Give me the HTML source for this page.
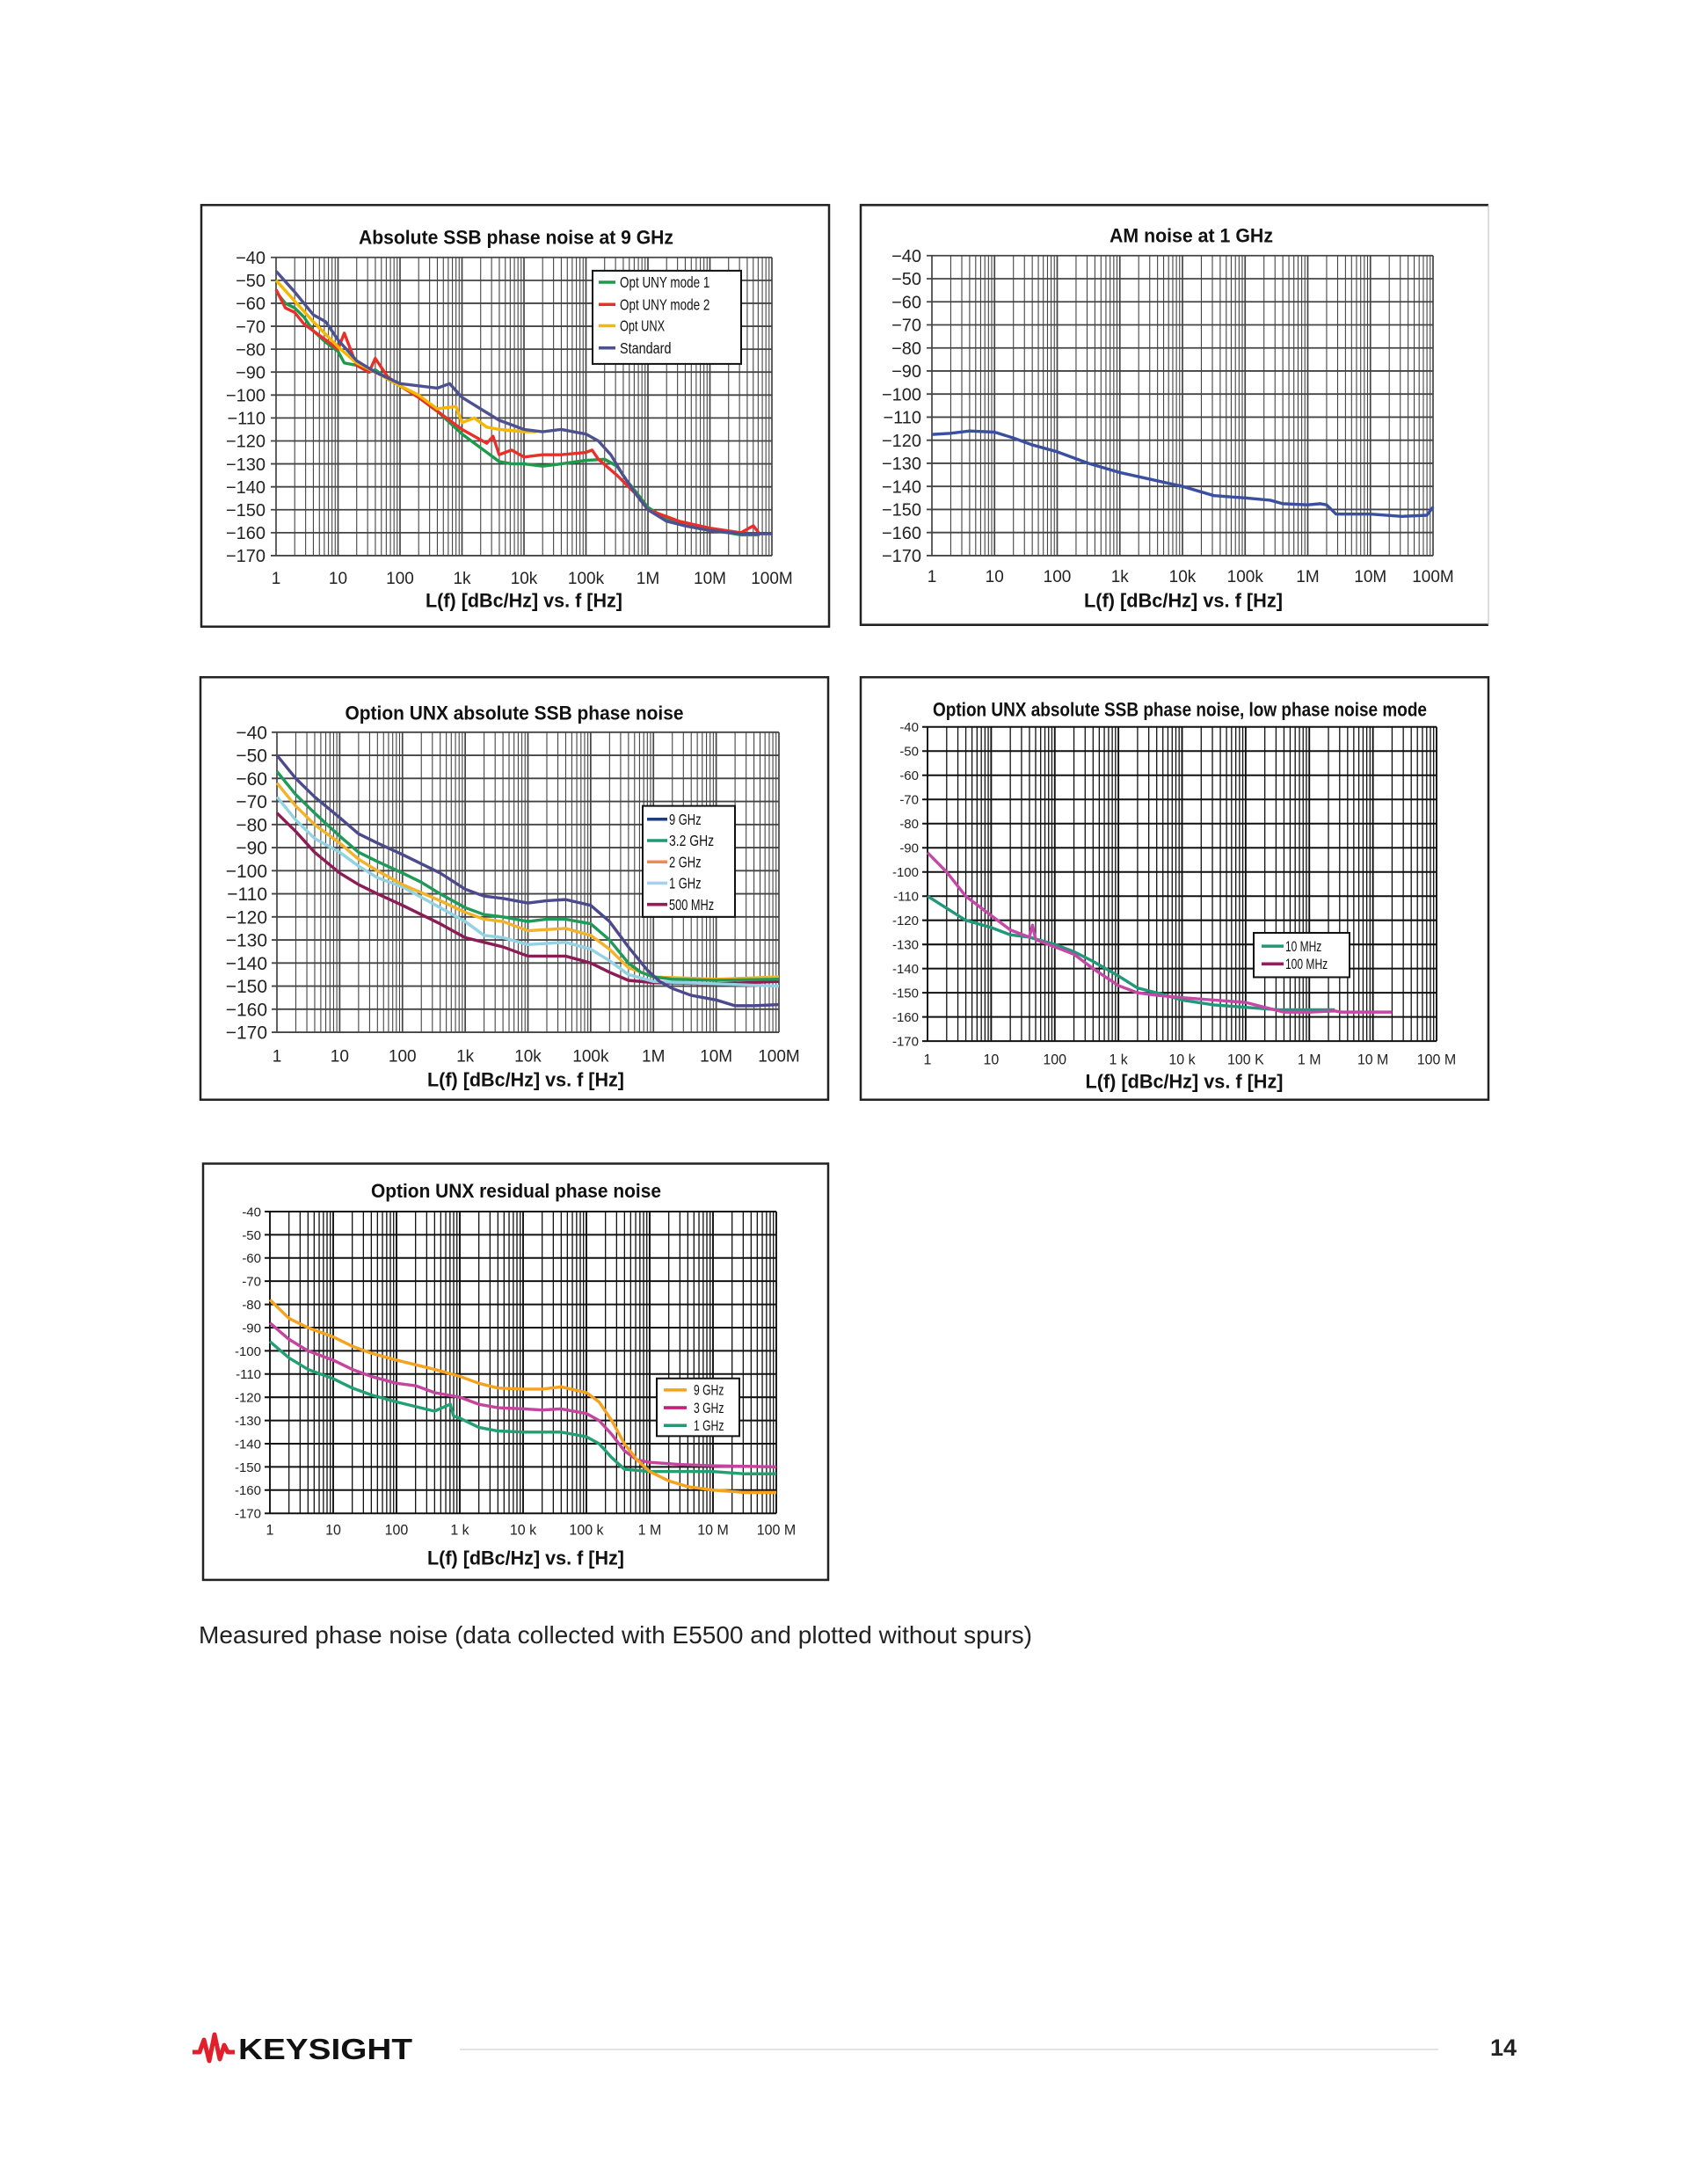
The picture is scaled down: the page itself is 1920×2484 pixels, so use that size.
<!DOCTYPE html>
<html><head><meta charset="utf-8">
<style>
html,body{margin:0;padding:0;background:#fff;}
body{width:1920px;height:2484px;position:relative;overflow:hidden;font-family:"Liberation Sans",sans-serif;}
#charts{position:absolute;left:0;top:0;}
.caption{position:absolute;left:226px;top:1844px;font-size:28px;color:#222;white-space:nowrap;}
.footer-line{position:absolute;left:523px;top:2330px;width:1113px;height:2px;background:#e3e3e3;}
.page-num{position:absolute;left:1695px;top:2314px;font-size:27px;font-weight:bold;color:#222;}
.logo{position:absolute;left:219px;top:2308px;}
</style></head>
<body>
<svg id="charts" width="1920" height="1830" xmlns="http://www.w3.org/2000/svg"><g id="root" transform="scale(1,1.0095)"></g></svg>
<div class="caption">Measured phase noise (data collected with E5500 and plotted without spurs)</div>
<svg class="logo" width="260" height="44" xmlns="http://www.w3.org/2000/svg">
<polyline points="0,26 8,26 13,12 19,36 25,6 31,34 36,18 40,26 48,26" fill="none" stroke="#e0202a" stroke-width="5" stroke-linejoin="round"/>
<text x="52" y="34" font-family="Liberation Sans, sans-serif" font-weight="bold" font-size="33" fill="#111" textLength="198" lengthAdjust="spacingAndGlyphs">KEYSIGHT</text>
</svg>
<div class="footer-line"></div>
<div class="page-num">14</div>
<script>
// ---------- data (x = log10 frequency in Hz, y = dBc/Hz) ----------
const yTicks = [-40,-50,-60,-70,-80,-90,-100,-110,-120,-130,-140,-150,-160,-170];
const xTickLabelsA = ["1","10","100","1k","10k","100k","1M","10M","100M"];
const xTickLabelsB = ["1","10","100","1 k","10 k","100 K","1 M","10 M","100 M"];
const xTickLabelsC = ["1","10","100","1 k","10 k","100 k","1 M","10 M","100 M"];

// Chart 1: Absolute SSB phase noise at 9 GHz
const c1GreenX = [0,0.15,0.3,0.45,0.6,0.8,1,1.1,1.3,1.5,1.6,1.8,2,2.3,2.6,3,3.2,3.4,3.6,3.8,4,4.3,4.6,5,5.3,5.5,5.65,5.8,6,6.3,6.6,7,7.3,7.5,7.8];
const c1GreenY = [-55,-60,-62,-66,-72,-77,-81,-86,-87,-90,-89,-93,-96,-101,-107,-117,-121,-125,-129,-130,-130,-131,-130,-128.5,-128,-131,-137,-142,-149,-154,-157,-159,-160,-161,-161];
const c1RedX = [0,0.15,0.3,0.45,0.6,0.8,1,1.1,1.3,1.5,1.6,1.8,2,2.3,2.6,3,3.2,3.4,3.5,3.6,3.8,4,4.3,4.6,5,5.1,5.2,5.5,5.8,6,6.5,7,7.5,7.7,7.8];
const c1RedY = [-54,-62,-64,-69,-72,-76,-80,-73,-87,-90,-84,-92,-96,-101,-107,-115,-118,-121,-118,-126,-124,-127,-126,-126,-125,-124,-128,-135,-143,-150,-155,-158,-160,-157,-160.5];
const c1YelX = [0,0.3,0.6,1,1.3,1.6,2,2.3,2.6,2.9,3,3.2,3.4,3.6,4,4.2];
const c1YelY = [-50,-59,-68,-79,-86,-90,-96,-100,-106,-105,-112,-110,-114,-115,-116,-116];
const c1StdX = [0,0.3,0.6,0.8,1,1.3,1.6,2,2.3,2.6,2.8,3,3.3,3.6,4,4.3,4.6,5,5.2,5.4,5.6,5.8,6,6.3,6.6,7,7.5,8];
const c1StdY = [-46,-55,-65,-68,-76,-85,-90,-95,-96,-97,-95,-101,-106,-111,-115,-116,-115,-117,-120,-126,-135,-143,-150,-155,-157,-159,-160.5,-160.5];

// Chart 2: AM noise at 1 GHz
const c2X = [0,0.3,0.6,1,1.3,1.6,2,2.5,3,3.5,4,4.5,5,5.4,5.6,6,6.2,6.3,6.45,7,7.5,7.9,8];
const c2Y = [-117.5,-117,-116,-116.5,-119,-122,-125,-130,-134,-137,-140,-144,-145,-146,-147.5,-148,-147.5,-148,-152,-152,-153,-152.5,-149];

// Chart 3: Option UNX absolute SSB phase noise
const c3N9X = [0,0.3,0.6,1,1.3,1.6,2,2.3,2.6,3,3.3,3.6,4,4.3,4.6,5,5.3,5.6,5.9,6.1,6.3,6.6,7,7.3,7.6,8];
const c3N9Y = [-50,-60,-68,-77,-84,-88,-93,-97,-101,-108,-111,-112,-114,-113,-112.5,-115,-122,-133,-143,-148,-151,-154,-156,-158.5,-158.5,-158];
const c3N32X = [0,0.3,0.6,1,1.3,1.6,2,2.3,2.6,3,3.3,3.6,4,4.3,4.6,5,5.3,5.6,5.8,6,6.3,7,8];
const c3N32Y = [-57,-67,-75,-85,-92,-96,-101,-105,-110,-116,-119,-120,-122,-121,-121,-123,-130,-140,-144,-146,-147,-147.5,-147];
const c3N2X = [0,0.3,0.6,1,1.3,1.6,2,2.6,3,3.3,3.6,4,4.6,5,5.3,5.6,6,7,8];
const c3N2Y = [-62,-72,-80,-88,-95,-100,-106,-113,-118,-121,-122,-126,-125,-128,-134,-142,-146,-147,-146];
const c3N1X = [0,0.3,0.6,1,1.3,1.6,2,2.6,3,3.3,3.6,4,4.6,5,5.3,5.6,6,7,8];
const c3N1Y = [-68,-78,-86,-92,-98,-103,-107,-116,-122,-128,-129,-132,-131,-134,-139,-145,-148,-149,-150];
const c3N05X = [0,0.3,0.6,1,1.3,1.6,2,2.6,3,3.3,3.6,4,4.6,5,5.3,5.6,6,7,8];
const c3N05Y = [-75,-83,-92,-101,-106,-110,-115,-123,-129,-131,-133,-137,-137,-140,-144,-147.5,-148.5,-149,-148];

// Chart 4: low phase noise mode
const c4TealX = [0,0.3,0.6,1,1.3,1.6,2,2.3,2.6,3,3.3,3.6,4,4.5,5,5.5,6,6.4];
const c4TealY = [-110,-115,-120,-123,-126,-127,-130,-133,-137,-143,-148,-150,-153,-155,-156,-157,-157,-157];
const c4PinkX = [0,0.3,0.6,1,1.3,1.6,1.65,1.7,2,2.3,2.6,3,3.3,3.6,4,4.5,5,5.3,5.6,6,6.4,6.5,7,7.3];
const c4PinkY = [-92,-100,-110,-118,-124,-127,-122,-128,-131,-134,-140,-147,-150,-151,-152,-153,-154,-156,-158,-158,-157.5,-158,-158,-158];

// Chart 5: Option UNX residual phase noise
const c5N9X = [0,0.3,0.6,1,1.3,1.6,2,2.3,2.6,3,3.3,3.6,4,4.3,4.6,5,5.2,5.4,5.6,5.8,6,6.3,6.6,7,7.5,8];
const c5N9Y = [-78,-86,-90,-94,-98,-101,-104,-106,-108,-111,-114,-116,-116.5,-116.5,-115.5,-118,-122,-130,-140,-147,-152,-156,-158.5,-160,-161,-161];
const c5N3X = [0,0.3,0.6,1,1.3,1.6,2,2.3,2.6,3,3.3,3.6,4,4.3,4.6,5,5.2,5.4,5.6,5.8,6,6.5,7,8];
const c5N3Y = [-88,-95,-100,-104,-108,-111,-114,-115,-118,-120,-123,-124.5,-125,-125.5,-125,-127,-130,-136,-143,-147,-148,-149,-149.5,-150];
const c5N1X = [0,0.3,0.6,1,1.3,1.6,2,2.3,2.6,2.85,2.9,3,3.3,3.6,4,4.3,4.6,5,5.2,5.4,5.6,6,7,7.5,8];
const c5N1Y = [-96,-103,-108,-112,-116,-119,-122,-124,-126,-123,-128,-129,-133,-134.5,-135,-135,-135,-137,-140,-146,-151,-152,-152,-153,-153];

// ---------- rendering ----------
const NS = "http://www.w3.org/2000/svg";
const svg = document.getElementById("root");
function mk(tag, attrs, parent){const e=document.createElementNS(NS,tag);for(const k in attrs)e.setAttribute(k,attrs[k]);(parent||svg).appendChild(e);return e;}

const charts = [
 {id:"ssb-9ghz", box:[229,231,714,475], plot:[314,290,878,626], title:"Absolute SSB phase noise at 9 GHz", tx:587, ty:275, tl:358, tfs:22,
  ylx:302, yfs:20, xl:xTickLabelsA, xly:658, xfs:19, at:684, atl:224, atx:596, grid:"#444", hgw:1.8, vgw:1.1, rightOpen:false,
  series:[["opt-uny-mode-1",c1GreenX,c1GreenY,"#1e9a4c"],["opt-uny-mode-2",c1RedX,c1RedY,"#e8302a"],["opt-unx",c1YelX,c1YelY,"#f5b800"],["standard",c1StdX,c1StdY,"#4e5190"]],
  legend:{box:[674,305,169,105], x1:681,x2:700, tx:705, ys:[318,343,367,392], fs:17, order:[0,1,2,3], labels:["Opt UNY mode 1","Opt UNY mode 2","Opt UNX","Standard"]}},
 {id:"am-noise-1ghz", box:[979,231,714,473], plot:[1060,288,1630,626], title:"AM noise at 1 GHz", tx:1355, ty:273, tl:186, tfs:22,
  ylx:1048, yfs:20, xl:xTickLabelsA, xly:656, xfs:19, at:684, atl:226, atx:1346, grid:"#444", hgw:1.8, vgw:1.1, rightOpen:true,
  series:[["am-noise",c2X,c2Y,"#3a4fa0"]], legend:null},
 {id:"unx-absolute", box:[228,763,714,476], plot:[315,825,886,1163], title:"Option UNX absolute SSB phase noise", tx:585, ty:811, tl:385, tfs:22,
  ylx:304, yfs:21, xl:xTickLabelsA, xly:1196, xfs:19, at:1224, atl:224, atx:598, grid:"#444", hgw:1.8, vgw:1.1, rightOpen:false,
  series:[["500-mhz",c3N05X,c3N05Y,"#8c1c55"],["1-ghz",c3N1X,c3N1Y,"#92d2e2"],["2-ghz",c3N2X,c3N2Y,"#f2b32a"],["3-2-ghz",c3N32X,c3N32Y,"#1f9a58"],["9-ghz",c3N9X,c3N9Y,"#4b4a8c"]],
  legend:{box:[731,908,105,125], x1:736,x2:759, tx:761, ys:[923,947,971,995,1019], fs:17, order:[4,3,2,1,0], labels:["9 GHz","3.2 GHz","2 GHz","1 GHz","500 MHz"], swatch:["#1d3e78","#1f9a78","#f08a50","#a0d4ec","#9a1a55"]}},
 {id:"unx-low-noise", box:[979,763,714,476], plot:[1055,819,1634,1173], title:"Option UNX absolute SSB phase noise, low phase noise mode", tx:1342, ty:807, tl:562, tfs:22,
  ylx:1045, yfs:15, xl:xTickLabelsB, xly:1199, xfs:16, at:1226, atl:225, atx:1347, grid:"#111", hgw:2, vgw:1.3, rightOpen:false,
  series:[["10-mhz",c4TealX,c4TealY,"#22987a"],["100-mhz",c4PinkX,c4PinkY,"#c448a6"]],
  legend:{box:[1426,1051,109,50], x1:1435,x2:1460, tx:1462, ys:[1066,1086], fs:16, order:[0,1], labels:["10 MHz","100 MHz"], swatch:["#22987a","#9a1a60"]}},
 {id:"unx-residual", box:[231,1311,711,469], plot:[307,1365,883,1705], title:"Option UNX residual phase noise", tx:587, ty:1349, tl:330, tfs:22,
  ylx:297, yfs:15, xl:xTickLabelsC, xly:1729, xfs:16, at:1763, atl:224, atx:598, grid:"#111", hgw:2, vgw:1.3, rightOpen:false,
  series:[["1-ghz",c5N1X,c5N1Y,"#23a072"],["3-ghz",c5N3X,c5N3Y,"#c4449e"],["9-ghz",c5N9X,c5N9Y,"#f5a21e"]],
  legend:{box:[747,1553,94,65], x1:755,x2:781, tx:789, ys:[1566,1586,1606], fs:16, order:[2,1,0], labels:["9 GHz","3 GHz","1 GHz"], swatch:["#f5a21e","#c41f78","#1f9a72"]}}
];

charts.forEach(c=>{
  const g = mk("g",{});
  
  
  const [bx,by,bw,bh]=c.box;
  if(c.rightOpen){
    const b=mk("polyline",{points:`${bx+bw},${by} ${bx},${by} ${bx},${by+bh} ${bx+bw},${by+bh}`,fill:"none",stroke:"#222","stroke-width":2.5},g);
    
    
    const r=mk("line",{x1:bx+bw,y1:by,x2:bx+bw,y2:by+bh,stroke:"#bbb","stroke-width":1},g);
    
    
  } else {
    const b=mk("rect",{x:bx,y:by,width:bw,height:bh,fill:"none",stroke:"#222","stroke-width":2.5},g);
    
    
  }
  const [px0,py0,px1,py1]=c.plot;
  const xs = d => px0 + (d/8)*(px1-px0);
  const ys = v => py0 + ((-40 - v)/130)*(py1-py0);
  for(let dec=0;dec<8;dec++){
    for(let m=1;m<=9;m++){
      const x = xs(dec+Math.log10(m));
      const l=mk("line",{x1:x,y1:py0,x2:x,y2:py1,stroke:c.grid,"stroke-width":m===1?c.vgw+0.6:c.vgw},g);
      
      
    }
  }
  const lr=mk("line",{x1:xs(8),y1:py0,x2:xs(8),y2:py1,stroke:c.grid,"stroke-width":c.vgw+0.6},g);
  
  
  yTicks.forEach(v=>{
    const y=ys(v);
    const l=mk("line",{x1:px0-6,y1:y,x2:px1,y2:y,stroke:c.grid,"stroke-width":c.hgw},g);
    
    
    const t=mk("text",{x:c.ylx,y:y+c.yfs*0.36,"text-anchor":"end","font-size":c.yfs,fill:"#222","font-family":"Liberation Sans, sans-serif"},g);
    t.textContent = (c.yfs>18? String(v).replace("-","\u2212") : String(v));
    
    
  });
  c.xl.forEach((lab,i)=>{
    const t=mk("text",{x:xs(i),y:c.xly,"text-anchor":"middle","font-size":c.xfs,fill:"#222","font-family":"Liberation Sans, sans-serif"},g);
    t.textContent=lab;
    
    
  });
  const tt=mk("text",{x:c.tx,y:c.ty,"text-anchor":"middle","font-size":c.tfs,"font-weight":"bold",fill:"#111",textLength:c.tl,lengthAdjust:"spacingAndGlyphs","font-family":"Liberation Sans, sans-serif"},g);
  tt.textContent=c.title;
  
  
  const at=mk("text",{x:c.atx,y:c.at,"text-anchor":"middle","font-size":22,"font-weight":"bold",fill:"#111",textLength:c.atl,lengthAdjust:"spacingAndGlyphs","font-family":"Liberation Sans, sans-serif"},g);
  at.textContent="L(f) [dBc/Hz] vs. f [Hz]";
  
  
  c.series.forEach(s=>{
    const pts = s[1].map((d,i)=>xs(d).toFixed(1)+","+ys(s[2][i]).toFixed(1)).join(" ");
    const p=mk("polyline",{points:pts,fill:"none",stroke:s[3],"stroke-width":3.4,"stroke-linejoin":"round"},g);
    
    
  });
  if(c.legend){
    const L=c.legend;
    const lg=mk("g",{},g);
    
    
    mk("rect",{x:L.box[0],y:L.box[1],width:L.box[2],height:L.box[3],fill:"#fff",stroke:"#111","stroke-width":2},lg);
    L.labels.forEach((lab,i)=>{
      const col = L.swatch ? L.swatch[i] : c.series[L.order[i]][3];
      const sw=mk("line",{x1:L.x1,y1:L.ys[i],x2:L.x2,y2:L.ys[i],stroke:col,"stroke-width":3.5},lg);
      
      
      const t=mk("text",{x:L.tx,y:L.ys[i]+L.fs*0.36,"font-size":L.fs,fill:"#111","font-family":"Liberation Sans, sans-serif",textLength:lab.length*L.fs*0.43,lengthAdjust:"spacingAndGlyphs"},lg);
      t.textContent=lab;
      
      
    });
  }
});
</script>
</body></html>
